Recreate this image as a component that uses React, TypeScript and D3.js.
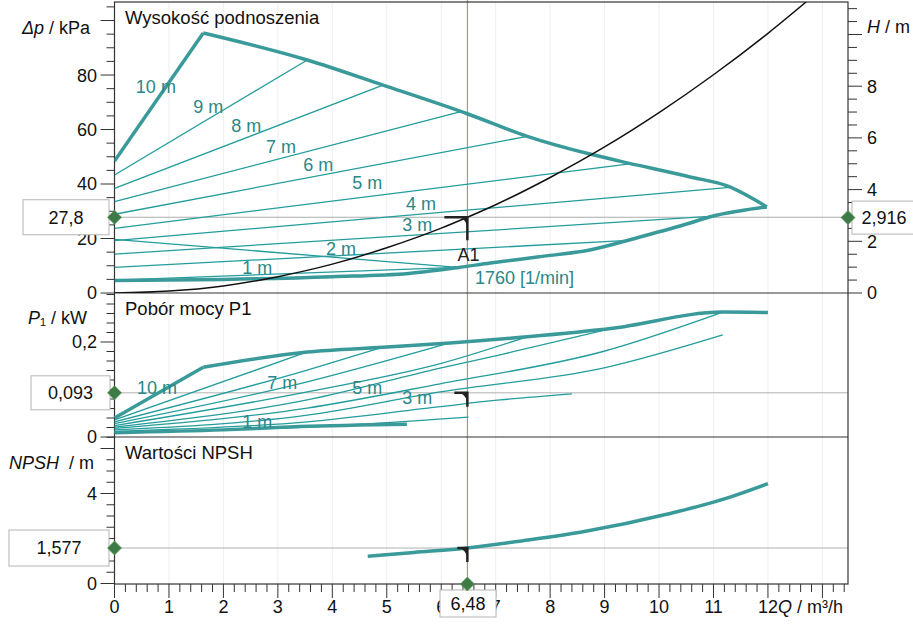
import React from "react";
import * as d3 from "d3";

type Pt = [number, number];

// operating point
const qOp = 6.48;
const dpOp = 27.8;
const hOp = 2.916;
const pOp = 0.093;
const npshOp = 1.577;

// x axis
const qLabels = ["0", "1", "2", "3", "4", "5", "6", "7", "8", "9", "10", "11", "12"];

// top panel: max speed curve and min speed curve (Q, Δp kPa)
const maxCurve: Pt[] = [
  [1.63, 95.4], [3.54, 85.5], [4.93, 76.3], [6.49, 65.7], [7.58, 57.5],
  [8.73, 51.0], [9.28, 48.4], [10.57, 42.6], [11.25, 39.3], [11.98, 31.6],
];
const minCurve: Pt[] = [
  [0, 4.6], [2, 5.0], [4, 6.0], [5.4, 7.2], [6.3, 9.3], [6.9, 11.0], [7.8, 13.3],
  [8.73, 15.8], [9.6, 20.3], [10.57, 25.7], [10.94, 28.0], [11.5, 30.2], [11.98, 31.6],
];
// Δp-v lines: value at Q=0 and end point
const setLabels = ["10 m", "9 m", "8 m", "7 m", "6 m", "5 m", "4 m", "3 m", "2 m", "1 m"];
const dpStart = [48.4, 43.3, 38.4, 33.5, 28.9, 23.7, 19.2, 14.3, 9.4, 4.75];
const dpEndQ = [1.63, 3.54, 4.93, 6.36, 7.58, 9.5, 11.3, 11.0, 9.45, 6.3];
const dpEnd = [95.4, 85.5, 76.3, 66.6, 57.5, 47.5, 38.8, 28.2, 19.3, 9.4];
const dpDescLine: Pt[] = [[0, 19.7], [6.3, 9.4]];
// label anchors (Q, Δp)
const dpLabelQ = [0.76, 1.72, 2.42, 3.06, 3.74, 4.64, 5.63, 5.56, 4.16, 2.62];
const dpLabelV = [75.6, 68.3, 61.3, 53.9, 47.0, 40.4, 33.0, 25.0, 16.5, 9.5];

// system curve (Q, Δp)
const systemCurve: Pt[] = [
  [0, 0], [1, 0.7], [2, 2.6], [3, 6.0], [4, 10.6], [5, 16.6], [6, 23.8], [6.48, 27.8],
  [7, 32.4], [8, 42.4], [9, 53.6], [10, 66.2], [11, 80.1], [12, 95.3], [12.7, 106.8],
];

// middle panel: power P1 (Q, kW)
const pMax10: Pt[] = [[0, 0.040], [1.63, 0.147]];
const pEnvelope: Pt[] = [
  [1.63, 0.147], [3.54, 0.179], [4.93, 0.189], [6.16, 0.198], [7.58, 0.211],
  [9.15, 0.229], [11.17, 0.263], [12.0, 0.262],
];
const pLines: Pt[][] = [
  [[0, 0.036], [3.54, 0.179]],
  [[0, 0.032], [3.54, 0.141], [4.93, 0.189]],
  [[0, 0.028], [3.54, 0.116], [6.16, 0.198]],
  [[0, 0.024], [3.54, 0.095], [6.0, 0.155], [7.58, 0.211]],
  [[0, 0.021], [3.54, 0.078], [5.98, 0.145], [7.08, 0.173], [9.15, 0.229]],
  [[0, 0.018], [3.54, 0.061], [5.98, 0.112], [8.97, 0.18], [11.17, 0.263]],
  [[0, 0.015], [3.54, 0.046], [5.98, 0.095], [8.97, 0.145], [11.17, 0.215]],
  [[0, 0.012], [3.54, 0.032], [5.98, 0.064], [7.08, 0.078], [8.4, 0.091]],
  [[0, 0.010], [3.54, 0.021], [6.5, 0.042]],
];
const pMinCurve: Pt[] = [[0, 0.009], [2, 0.015], [3.4, 0.022], [5.37, 0.027]];
const pLabels = ["10 m", "7 m", "5 m", "3 m", "1 m"];
const pLabelQ = [0.78, 3.08, 4.64, 5.56, 2.62];
const pLabelV = [0.105, 0.114, 0.105, 0.084, 0.032];

// bottom panel: NPSH (Q, m)
const npshCurve: Pt[] = [
  [4.65, 1.21], [5.5, 1.38], [6.48, 1.577], [7.5, 1.9], [8.58, 2.29], [10.18, 3.1], [11.2, 3.76], [12.0, 4.44],
];

const FONT = "'Liberation Sans', Arial, sans-serif";
const TEAL = "#239c9c";
const TEAL_THICK = "#3a9a9a";
const TEAL_TEXT = "#2a8888";
const GREEN = "#3d7a45";

const Diamond = ({ cx, cy }: { cx: number; cy: number }) => (
  <path d={`M${cx},${cy - 7}L${cx + 7},${cy}L${cx},${cy + 7}L${cx - 7},${cy}Z`} fill={GREEN} stroke="#5a9a5a" strokeWidth={0.8} />
);

const OpMark = ({ cx, cy, arm, leg }: { cx: number; cy: number; arm: number; leg: number }) => (
  <g>
    <path d={`M${cx - arm},${cy}H${cx}V${cy + leg}`} fill="none" stroke="#222" strokeWidth={2.5} />
    <path d={`M${cx - 8},${cy}L${cx},${cy}L${cx},${cy + 9}Q${cx - 2},${cy + 2} ${cx - 8},${cy}Z`} fill="#222" />
  </g>
);

const ValueBox = ({ x0, x1, y0, y1, text }: { x0: number; x1: number; y0: number; y1: number; text: string }) => (
  <g>
    <rect x={x0} y={y0} width={x1 - x0} height={y1 - y0} fill="#fff" stroke="#b4b4b4" strokeWidth={1} />
    <text x={(x0 + x1) / 2} y={(y0 + y1) / 2} dy="0.36em" textAnchor="middle" fontSize={18} fill="#111">{text}</text>
  </g>
);

export default function App() {
  const left = 114.5, right = 848, top = 2, bottom = 584;
  const x = d3.scaleLinear().domain([0, 13.47]).range([left, right]);
  const yDp = d3.scaleLinear().domain([0, 106.8]).range([293, top]);
  const yH = d3.scaleLinear().domain([0, 10]).range([293, 34.5]);
  const yP = d3.scaleLinear().domain([0, 0.2]).range([437, 342]);
  const yN = d3.scaleLinear().domain([0, 4]).range([583.5, 493.5]);

  const lineDp = d3.line<Pt>().x(d => x(d[0])).y(d => yDp(d[1])).curve(d3.curveMonotoneX);
  const lineP = d3.line<Pt>().x(d => x(d[0])).y(d => yP(d[1])).curve(d3.curveMonotoneX);
  const lineN = d3.line<Pt>().x(d => x(d[0])).y(d => yN(d[1])).curve(d3.curveMonotoneX);

  const dpTicks = d3.range(0, 105.1, 5);
  const hTicks = d3.range(0, 11.01, 0.5);
  const pTicks = d3.range(0, 0.301, 0.02);
  const nTicks = d3.range(0, 6.51, 0.5);
  const qTicks = d3.range(0, 13.41, 0.2);

  const xo = x(qOp);

  return (
    <svg width={913} height={627} style={{ position: "absolute", left: 0, top: 0, background: "#fff" }} fontFamily={FONT}>
      <defs>
        <clipPath id="topClip"><rect x={left} y={top} width={right - left} height={293 - top} /></clipPath>
      </defs>
      <rect width={913} height={627} fill="#fff" />

      {/* faint grid */}
      {d3.range(1, 14).map(q => (
        <line key={"g" + q} x1={x(q)} x2={x(q)} y1={top} y2={bottom} stroke="#efefef" strokeWidth={1} />
      ))}

      {/* reference lines */}
      <line x1={left} x2={right} y1={yDp(dpOp)} y2={yDp(dpOp)} stroke="#a9afa9" strokeWidth={1} />
      <line x1={left} x2={right} y1={yP(pOp)} y2={yP(pOp)} stroke="#b0b0b0" strokeWidth={1} />
      <line x1={left} x2={right} y1={yN(npshOp)} y2={yN(npshOp)} stroke="#b0b0b0" strokeWidth={1} />
      <line x1={xo} x2={xo} y1={0} y2={bottom} stroke="#8c8c80" strokeWidth={1} />

      {/* frame */}
      <rect x={left} y={top} width={right - left} height={bottom - top} fill="none" stroke="#333" strokeWidth={1.2} />
      <line x1={left} x2={right} y1={293} y2={293} stroke="#333" strokeWidth={1.2} />
      <line x1={left} x2={right} y1={437} y2={437} stroke="#333" strokeWidth={1.2} />

      {/* top panel curves */}
      <g clipPath="url(#topClip)">
        {setLabels.map((lab, i) => (
          <path key={lab} d={lineDp([[0, dpStart[i]], [dpEndQ[i], dpEnd[i]]]) || ""} fill="none"
            stroke={i === 0 ? TEAL_THICK : TEAL} strokeWidth={i === 0 ? 3.5 : 1.3} />
        ))}
        <path d={lineDp(dpDescLine) || ""} fill="none" stroke={TEAL} strokeWidth={1.3} />
        <path d={lineDp(maxCurve) || ""} fill="none" stroke={TEAL_THICK} strokeWidth={3.5} />
        <path d={lineDp(minCurve) || ""} fill="none" stroke={TEAL_THICK} strokeWidth={3.5} />
        <path d={lineDp(systemCurve) || ""} fill="none" stroke="#111" strokeWidth={1.5} />
      </g>
      {setLabels.map((lab, i) => (
        <text key={"l" + lab} x={x(dpLabelQ[i])} y={yDp(dpLabelV[i])} dy="0.36em" textAnchor="middle" fontSize={18} fill={TEAL_TEXT}>{lab}</text>
      ))}
      <text x={x(6.5)} y={yDp(14)} dy="0.36em" textAnchor="middle" fontSize={18} fill="#222">A1</text>
      <text x={x(6.62)} y={yDp(5.5)} dy="0.36em" fontSize={18} fill={TEAL_TEXT}>1760 [1/min]</text>

      {/* middle panel curves */}
      {pLines.map((pts, i) => (
        <path key={"p" + i} d={lineP(pts) || ""} fill="none" stroke={TEAL} strokeWidth={1.3} />
      ))}
      <path d={lineP(pMax10) || ""} fill="none" stroke={TEAL_THICK} strokeWidth={3.5} />
      <path d={lineP(pEnvelope) || ""} fill="none" stroke={TEAL_THICK} strokeWidth={3.5} />
      <path d={lineP(pMinCurve) || ""} fill="none" stroke={TEAL_THICK} strokeWidth={3.5} />
      {pLabels.map((lab, i) => (
        <text key={"pl" + lab} x={x(pLabelQ[i])} y={yP(pLabelV[i])} dy="0.36em" textAnchor="middle" fontSize={18} fill={TEAL_TEXT}>{lab}</text>
      ))}

      {/* bottom panel */}
      <path d={lineN(npshCurve) || ""} fill="none" stroke={TEAL_THICK} strokeWidth={3.5} />

      {/* panel titles */}
      <text x={125} y={24} fontSize={18.5} fill="#111">Wysokość podnoszenia</text>
      <text x={125} y={315} fontSize={18.5} fill="#111">Pobór mocy P1</text>
      <text x={125} y={459} fontSize={18.5} fill="#111">Wartości NPSH</text>

      {/* left axes */}
      {dpTicks.map(v => (
        <line key={"dt" + v} x1={left - (v % 20 === 0 ? 14 : 8)} x2={left} y1={yDp(v)} y2={yDp(v)} stroke="#333" strokeWidth={1} />
      ))}
      {[0, 20, 40, 60, 80].map(v => (
        <text key={"dl" + v} x={97} y={yDp(v)} dy="0.36em" textAnchor="end" fontSize={18} fill="#111">{v}</text>
      ))}
      {pTicks.map((v, i) => (
        <line key={"pt" + i} x1={left - (i % 10 === 0 ? 14 : 8)} x2={left} y1={yP(v)} y2={yP(v)} stroke="#333" strokeWidth={1} />
      ))}
      {[[0, "0"], [0.2, "0,2"]].map(([v, s]) => (
        <text key={"pl" + s} x={97} y={yP(v as number)} dy="0.36em" textAnchor="end" fontSize={18} fill="#111">{s}</text>
      ))}
      {nTicks.map((v, i) => (
        <line key={"nt" + i} x1={left - (i % 4 === 0 ? 14 : 8)} x2={left} y1={yN(v)} y2={yN(v)} stroke="#333" strokeWidth={1} />
      ))}
      {[0, 4].map(v => (
        <text key={"nl" + v} x={97} y={yN(v)} dy="0.36em" textAnchor="end" fontSize={18} fill="#111">{v}</text>
      ))}

      {/* right axis H */}
      {hTicks.map((v, i) => (
        <line key={"ht" + i} x1={right} x2={right + (i % 4 === 0 ? 14 : 9)} y1={yH(v)} y2={yH(v)} stroke="#333" strokeWidth={1} />
      ))}
      {[0, 2, 4, 6, 8].map(v => (
        <text key={"hl" + v} x={867} y={yH(v)} dy="0.36em" fontSize={18} fill="#111">{v}</text>
      ))}

      {/* bottom axis */}
      {qTicks.map((v, i) => (
        <line key={"qt" + i} x1={x(v)} x2={x(v)} y1={bottom} y2={bottom + (i % 5 === 0 ? 14 : 8)} stroke="#333" strokeWidth={1} />
      ))}
      {qLabels.map((s, i) => (
        <text key={"ql" + s} x={x(i)} y={613} textAnchor="middle" fontSize={18} fill="#111">{s}</text>
      ))}
      <text x={x(12) + 10} y={613} fontSize={18} fill="#111"><tspan fontStyle="italic">Q</tspan> / m³/h</text>

      {/* axis titles */}
      <text x={22} y={34} fontSize={18} fill="#111"><tspan fontStyle="italic">Δp</tspan> / kPa</text>
      <text x={867} y={33} fontSize={18} fill="#111"><tspan fontStyle="italic">H</tspan> / m</text>
      <text x={28} y={324} fontSize={18} fill="#111"><tspan fontStyle="italic">P</tspan>₁ / kW</text>
      <text x={9} y={469} fontSize={18} fill="#111" style={{ whiteSpace: "pre" }}><tspan fontStyle="italic">NPSH</tspan>  / m</text>

      {/* operating point markers */}
      <OpMark cx={xo} cy={yDp(dpOp)} arm={23} leg={23} />
      <OpMark cx={xo} cy={yP(pOp)} arm={13} leg={14} />
      <OpMark cx={xo} cy={yN(npshOp)} arm={10} leg={14} />

      {/* value boxes */}
      <ValueBox x0={23} x1={109} y0={yDp(dpOp) - 17.5} y1={yDp(dpOp) + 17.5} text="27,8" />
      <ValueBox x0={31} x1={110} y0={yP(pOp) - 17} y1={yP(pOp) + 17} text="0,093" />
      <ValueBox x0={9} x1={109} y0={yN(npshOp) - 18} y1={yN(npshOp) + 18} text="1,577" />
      <ValueBox x0={852} x1={916} y0={yH(hOp) - 16.5} y1={yH(hOp) + 16.5} text="2,916" />
      <ValueBox x0={440} x1={496} y0={590} y1={617} text="6,48" />

      <Diamond cx={left} cy={yDp(dpOp)} />
      <Diamond cx={left} cy={yP(pOp)} />
      <Diamond cx={left} cy={yN(npshOp)} />
      <Diamond cx={right} cy={yH(hOp)} />
      <Diamond cx={xo} cy={bottom} />
    </svg>
  );
}
